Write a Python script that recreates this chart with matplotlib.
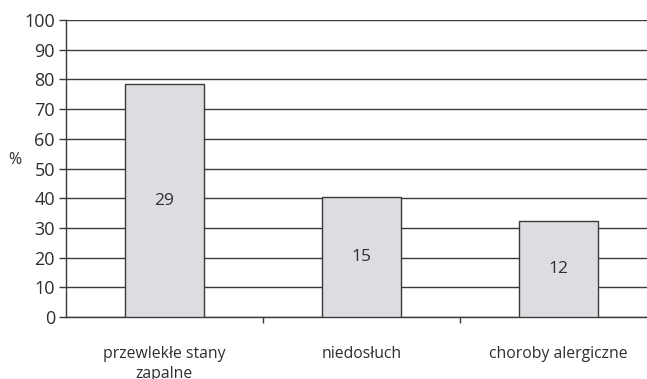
import numpy as np
import matplotlib.pyplot as plt
from matplotlib.ticker import MultipleLocator, FixedLocator

plt.rcParams['font.family'] = ['Open Sans', 'DejaVu Sans']

categories = ["przewlekłe stany\nzapalne", "niedosłuch", "choroby alergiczne"]
percent = [78.4, 40.5, 32.4]
counts = [29, 15, 12]

text_col = "#2e2e2e"
line_col = "#3a3a3a"

fig = plt.figure(figsize=(6.47, 3.79), dpi=100)
ax = fig.add_axes([66 / 647, 1 - 317 / 379, 591 / 647, 297 / 379])

x = np.arange(len(categories))
bars = ax.bar(x, percent, width=0.4, color="#dcdde0", edgecolor=line_col,
              linewidth=1.0, zorder=3)

# liczby w środku słupków
for xi, p, c in zip(x, percent, counts):
    ax.text(xi, p / 2, str(c), ha="center", va="center", fontsize=12.5,
            color=text_col, zorder=4)

ax.set_xlim(-0.5, 2.5)
ax.set_ylim(0, 100)
ax.yaxis.set_major_locator(MultipleLocator(10))
ax.yaxis.grid(True, color=line_col, linewidth=1.0, zorder=0)
ax.set_axisbelow(True)

ax.set_xticks(x)
ax.set_xticklabels(categories, fontsize=11.3, color=text_col, linespacing=1.35)
ax.xaxis.set_minor_locator(FixedLocator([0.5, 1.5]))
ax.tick_params(axis="x", which="major", length=0, pad=21)
ax.tick_params(axis="x", which="minor", length=4, width=1, color=line_col,
               direction="out")
ax.tick_params(axis="y", length=5, width=1, color=line_col, labelsize=13,
               labelcolor=text_col, pad=3)

for s in ["top", "right"]:
    ax.spines[s].set_visible(False)
for s in ["left", "bottom"]:
    ax.spines[s].set_color(line_col)
    ax.spines[s].set_linewidth(1.0)

fig.text(15 / 647, 1 - 160 / 379, "%", fontsize=11.5, color=text_col,
         ha="center", va="center")

fig.savefig("out.png", dpi=100)
